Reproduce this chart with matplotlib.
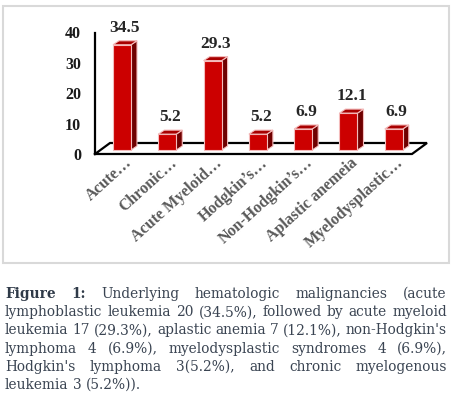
import numpy as np
import matplotlib
matplotlib.use("Agg")
from matplotlib import pyplot as plt
from matplotlib.patches import Polygon, Rectangle

categories = ["Acute\u2026", "Chronic\u2026", "Acute Myeloid\u2026", "Hodgkin\u2019s\u2026",
              "Non-Hodgkin\u2019s\u2026", "Aplastic anemeia", "Myelodysplastic\u2026"]
values = [34.5, 5.2, 29.3, 5.2, 6.9, 12.1, 6.9]
yticks = [0, 10, 20, 30, 40]

caption = [
    "Figure 1: Underlying hematologic malignancies (acute",
    "lymphoblastic leukemia 20 (34.5%), followed by acute myeloid",
    "leukemia 17 (29.3%), aplastic anemia 7 (12.1%), non-Hodgkin's",
    "lymphoma 4 (6.9%), myelodysplastic syndromes 4 (6.9%),",
    "Hodgkin's lymphoma 3(5.2%), and chronic myelogenous",
    "leukemia 3 (5.2%)).",
]

W, H = 453, 393
fig = plt.figure(figsize=(W / 100, H / 100), dpi=100)

# chart frame
fig.patches.append(Rectangle((3 / W, 1 - 263 / H), 446 / W, 257 / H, transform=fig.transFigure,
                             fill=False, edgecolor="#d9d9d9", lw=1.5))

ax = fig.add_axes([95 / W, 1 - 160 / H, 332 / W, 140 / H])
xmin, xmax = -0.596, 6.733
ymin, ymax = -3.28, 42.62
ax.set_xlim(xmin, xmax)
ax.set_ylim(ymin, ymax)
ax.axis("off")
px_x = (xmax - xmin) / 332.0   # data units per pixel
px_y = (ymax - ymin) / 140.0

x = np.arange(len(values))
w = 18 * px_x
ddx, ddy = 6 * px_x, 4 * px_y
wall = -4.5 * px_y

# floor and y axis
fx0, fx1 = xmin, xmin + 317 * px_x
fy0, fy1 = -4 * px_y, 7 * px_y
bx = 15 * px_x
floor = [(fx0, fy0), (fx1, fy0), (fx1 + bx, fy1), (fx0 + bx, fy1), (fx0, fy0)]
ax.plot([p[0] for p in floor], [p[1] for p in floor], color="black", lw=1.6, clip_on=False,
        solid_joinstyle="miter")
ax.plot([xmin, xmin], [fy0, 40 + wall - 1 * px_y], color="black", lw=1.6, clip_on=False)
for t in yticks:
    ax.text(xmin - 14 * px_x, t + wall - 2 * px_y, str(t), ha="right", va="center", fontsize=11.5,
            fontweight="bold", family="Liberation Serif", color="#1a1a1a")

# bars with fake depth
edge = "#f4bcbc"
ax.bar(x, values, width=w, color="#cc0000", edgecolor=edge, lw=0.8, zorder=3)
for xi, v in zip(x, values):
    side = [(xi + w / 2, 0), (xi + w / 2 + ddx, ddy), (xi + w / 2 + ddx, v + ddy), (xi + w / 2, v)]
    top = [(xi - w / 2, v), (xi + w / 2, v), (xi + w / 2 + ddx, v + ddy), (xi - w / 2 + ddx, v + ddy)]
    ax.add_patch(Polygon(side, closed=True, facecolor="#700000", edgecolor=edge, lw=0.8, zorder=2))
    ax.add_patch(Polygon(top, closed=True, facecolor="#a80000", edgecolor=edge, lw=0.8, zorder=4))
    ax.text(xi + ddx / 2, v + ddy + 5 * px_y, f"{v:.1f}", ha="center", va="bottom", fontsize=12.5,
            fontweight="bold", family="Liberation Serif", color="#262626")

for xi, lab in zip(x, categories):
    ax.text(xi + 10 * px_x, -14 * px_y, lab, rotation=42, rotation_mode="anchor", ha="right",
            va="baseline", fontsize=11.5, fontweight="bold", family="Liberation Serif",
            color="#595959", clip_on=False)

# justified caption
renderer = fig.canvas.get_renderer()
cap_color = "#3a4452"


def word_width(word, size, bold):
    t = fig.text(0, 0, word, fontsize=size, family="DejaVu Serif",
                 fontweight="bold" if bold else "normal")
    wpx = t.get_window_extent(renderer).width
    t.remove()
    return wpx


left, right = 5, 447
size = 10.0
natural = word_width(caption[1], size, False)
size = size * 438 / natural
space = word_width("a a", size, False) - word_width("aa", size, False)

for li, line in enumerate(caption):
    words = line.split(" ")
    bold = [li == 0 and k < 2 for k in range(len(words))]
    widths = [word_width(wd, size, b) for wd, b in zip(words, bold)]
    if li < len(caption) - 1:
        gap = (right - left - sum(widths)) / (len(words) - 1)
    else:
        gap = space
    xpos = left
    ybase = 298 + li * 18.2
    for wd, wid, b in zip(words, widths, bold):
        fig.text(xpos / W, 1 - ybase / H, wd, fontsize=size, family="DejaVu Serif",
                 fontweight="bold" if b else "normal", color="#2f3a48" if b else cap_color,
                 ha="left", va="baseline")
        xpos += wid + gap

fig.savefig("out.png", dpi=100)
